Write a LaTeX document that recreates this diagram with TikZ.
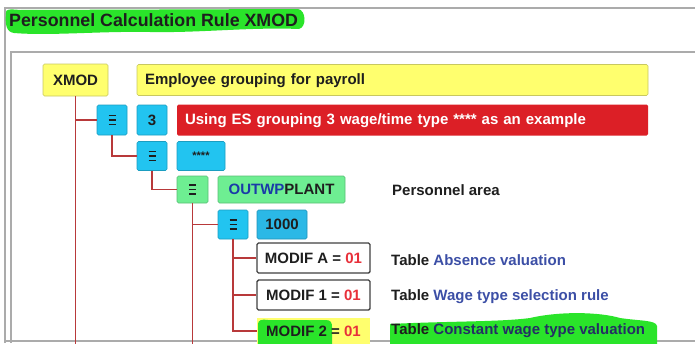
\documentclass[tikz,border=0pt]{standalone}
\usepackage{fontspec}
\setmainfont{Liberation Sans}
\usetikzlibrary{calc}
\definecolor{ylw}{HTML}{FFFF6E}
\definecolor{ylwd}{HTML}{C8C860}
\definecolor{redb}{HTML}{DC1F26}
\definecolor{cyanb}{HTML}{22C4F0}
\definecolor{cyanb2}{HTML}{2BB8E6}
\definecolor{grnb}{HTML}{6EEE92}
\definecolor{conn}{HTML}{B8393A}
\definecolor{hl}{HTML}{2AE42A}
\definecolor{tblue}{HTML}{1A3BA8}
\definecolor{sblue}{HTML}{3C4FA6}
\definecolor{numred}{HTML}{E8303A}
\definecolor{frm}{HTML}{ABABAB}
\definecolor{txt}{HTML}{1E1E1E}
\begin{document}
\begin{tikzpicture}[x=1pt,y=-1pt,
  bx/.style={rounded corners=1.5pt, inner sep=0pt, text=txt,
    font=\bfseries\fontsize{15}{18}\selectfont},
  wide/.style={text height=11pt, text depth=3pt, inner xsep=8pt, align=left},
  ybox/.style={bx, fill=ylw, draw=ylwd, line width=0.6pt},
  cbox/.style={bx, fill=cyanb, draw=cyanb!80!black, line width=0.6pt},
  gbox/.style={bx, fill=grnb, draw=grnb!80!black, line width=0.6pt},
  wbox/.style={bx, fill=white, draw=black!75, line width=1.4pt},
  icon/.style={path picture={
      \foreach \dy in {-4.5,0,4.5}
        \draw[line width=1.5pt, txt] ([xshift=-3.5pt,yshift=\dy pt]path picture bounding box.center) -- ++(7,0);}},
  lbl/.style={anchor=west, inner sep=0pt, text=txt, font=\bfseries\fontsize{15}{18}\selectfont},
  cn/.style={draw=conn, line width=1.9pt},
  frame/.style={draw=frm, line width=1.2pt}
]
\useasboundingbox (0,0) rectangle (695,343);
\clip (0,0) rectangle (695,343);
\coordinate (bot) at (0,346);

% frames
\draw[frame] (5,343) -- (5,8) -- (695,8);
\draw[frame] (11,343) -- (11,52) -- (695,52);
\draw[frame] (5,341) -- (695,341);

% title highlight + title
\fill[hl] (6,13) .. controls (5,9) and (10,9) .. (20,10) -- (298,9)
  .. controls (306,10) and (307,27) .. (299,29)
  .. controls (250,27) and (200,33) .. (150,32)
  .. controls (100,31) and (50,36) .. (14,33)
  .. controls (6,32) and (5,24) .. (6,13) -- cycle;
\node[lbl, font=\bfseries\fontsize{17.8}{20}\selectfont] (title) at (9,20) {Personnel Calculation Rule XMOD};

% level 0
\node[ybox, minimum width=65pt, minimum height=32pt] (xmod) at (75.5,80) {XMOD};
\node[ybox, wide, minimum height=31pt, text width=495pt] (emp) at (392.5,80) {Employee grouping for payroll};

% level 1
\node[cbox, icon, minimum width=30pt, minimum height=30pt] (e1) at (112,120) {};
\node[cbox, minimum width=30pt, minimum height=30pt] (n3) at (152,120) {3};
\node[bx, wide, fill=redb, text=white, minimum height=31pt, text width=455pt] (red) at (412.5,120) {Using ES grouping 3 wage/time type **** as an example};

% level 2
\node[cbox, icon, minimum width=30pt, minimum height=29pt] (e2) at (152,156) {};
\node[cbox, minimum width=48pt, minimum height=29pt, font=\bfseries\fontsize{11}{13}\selectfont] (stars) at (201,156) {****};

% level 3
\node[gbox, icon, minimum width=31pt, minimum height=27pt] (e3) at (192.5,189.5) {};
\node[gbox, minimum width=127pt, minimum height=27pt] (outwp) at (281.5,189.5) {\textcolor{tblue}{OUTWP}PLANT};
\node[lbl] (parea) at (392,190) {Personnel area};

% level 4
\node[cbox, icon, minimum width=30pt, minimum height=29pt] (e4) at (233,224.5) {};
\node[bx, fill=cyanb2, draw=cyanb2!80!black, line width=0.6pt, minimum width=50pt, minimum height=29pt] (k1000) at (282,224.5) {1000};

% level 5
\node[wbox, minimum width=113pt, minimum height=30pt] (m1) at (313.5,258) {MODIF A = \textcolor{numred}{01}};
\node[wbox, minimum width=113pt, minimum height=30pt] (m2) at (313.5,295) {MODIF 1 = \textcolor{numred}{01}};
\fill[ylw] (257,318) rectangle (370,346);
\fill[hl] (258,324) .. controls (258,320) and (262,319) .. (268,320) -- (326,320)
  .. controls (331,320) and (332,323) .. (332,327) -- (332,346) -- (258,346) -- cycle;
\node[bx, minimum width=113pt, minimum height=26pt] (m3) at (313.5,331) {MODIF 2 = \textcolor{numred}{01}};

\fill[hl] (390,324) .. controls (450,321) and (500,322) .. (530,318)
  .. controls (560,311) and (600,312) .. (620,318)
  .. controls (640,321) and (656,320) .. (657,326) -- (657,346) -- (390,346) -- cycle;

\node[lbl] (t1) at (391,260) {Table \textcolor{sblue}{Absence valuation}};
\node[lbl] (t2) at (391,297) {Table \textcolor{sblue}{Wage type selection rule}};
\node[lbl] (t3) at (391,331) {Table \textcolor{sblue!60!black}{Constant wage type valuation}};

% connectors
\draw[cn] (xmod.south) -- (xmod.south |- bot);
\draw[cn] (xmod.south |- e1.west) -- (e1.west);
\draw[cn] (e1.south) |- (e2.west);
\draw[cn] (e2.south) |- (e3.west);
\draw[cn] (e3.south) -- (e3.south |- bot);
\draw[cn] (e3.south |- e4.west) -- (e4.west);
\draw[cn] (e4.south) |- (m1.west);
\draw[cn] (e4.south) |- (m2.west);
\draw[cn] (e4.south) |- (m3.west);
\end{tikzpicture}
\end{document}
